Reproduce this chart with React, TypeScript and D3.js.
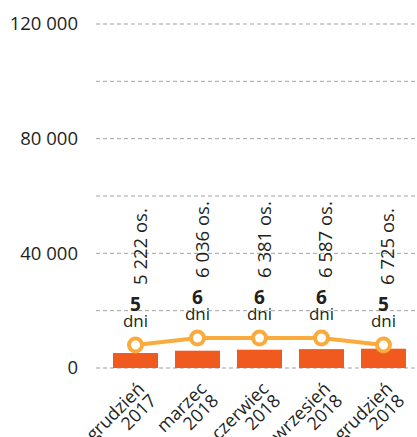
import React from "react";
import * as d3 from "d3";

const monthNames = ["grudzień", "marzec", "czerwiec", "wrzesień", "grudzień"];
const years = ["2017", "2018", "2018", "2018", "2018"];
const people = [5222, 6036, 6381, 6587, 6725];
const days = [5, 6, 6, 6, 5];
const gridTicks = [0, 20000, 40000, 60000, 80000, 100000, 120000];
const labelTicks = [0, 40000, 80000, 120000];

const W = 417;
const H = 437;
const FONT = "'Open Sans', 'Noto Sans', sans-serif";
const BAR = "#F15A1E";
const LINE = "#FBAB3B";
const TEXT = "#231F20";

const locale = d3.formatLocale({ decimal: ",", thousands: " ", grouping: [3], currency: ["", " zł"] });
const fmt = locale.format(",d");

export default function App() {
  const x = d3.scaleBand<number>().domain(d3.range(people.length)).range([113, 406]).paddingInner(0.274).paddingOuter(0);
  const y = d3.scaleLinear().domain([0, 120000]).range([368, 24]);
  const yDays = d3.scaleLinear().domain([2, 12]).range([366, 296]);
  const cx = (i: number) => (x(i) as number) + x.bandwidth() / 2;

  const line = d3
    .line<number>()
    .x((_, i) => cx(i))
    .y((d) => yDays(d));

  return (
    <svg width={W} height={H} style={{ position: "absolute", left: 0, top: 0, background: "#fff" }} fontFamily={FONT}>
      {gridTicks.map((t) => (
        <line key={t} x1={96} x2={W} y1={y(t)} y2={y(t)} stroke="#A3A3A3" strokeWidth={1} strokeDasharray="4 3" />
      ))}
      {labelTicks.map((t) => (
        <text key={t} x={78} y={y(t)} dy="0.35em" textAnchor="end" fontSize={18.5} fill={TEXT}>
          {fmt(t)}
        </text>
      ))}
      {people.map((v, i) => (
        <rect key={i} x={x(i)} y={y(v)} width={x.bandwidth()} height={y(0) - y(v)} fill={BAR} />
      ))}
      <path d={line(days) || ""} fill="none" stroke={LINE} strokeWidth={4} />
      {days.map((d, i) => (
        <circle key={i} cx={cx(i)} cy={yDays(d)} r={6.5} fill="#fff" stroke={LINE} strokeWidth={4} />
      ))}
      {days.map((d, i) => (
        <g key={i} fill={TEXT} textAnchor="middle">
          <text x={cx(i)} y={yDays(d) - 34} fontSize={19} fontWeight={700}>
            {d}
          </text>
          <text x={cx(i)} y={yDays(d) - 18} fontSize={17}>
            dni
          </text>
          <text
            transform={`translate(${cx(i) + 11},${yDays(d) - 60}) rotate(-90)`}
            textAnchor="start"
            fontSize={18.5}
          >
            {fmt(people[i])} os.
          </text>
        </g>
      ))}
      {monthNames.map((m, i) => (
        <text
          key={i}
          transform={`translate(${cx(i) + 10},${y(0) + 22}) rotate(-45)`}
          textAnchor="end"
          fontSize={18}
          fill={TEXT}
        >
          <tspan x={0} dy={0}>{m}</tspan>
          <tspan x={0} dy={17}>{years[i]}</tspan>
        </text>
      ))}
    </svg>
  );
}
